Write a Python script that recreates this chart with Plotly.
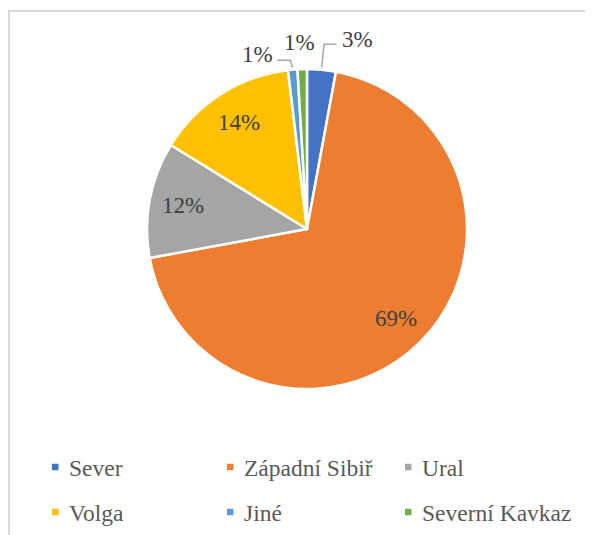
import math
import plotly.graph_objects as go

labels = ["Sever", "Západní Sibiř", "Ural", "Volga", "Jiné", "Severní Kavkaz"]
values = [2.9, 69.2, 11.7, 14.3, 0.95, 0.95]
colors = ["#4472C4", "#ED7D31", "#A5A5A5", "#FFC000", "#5B9BD5", "#70AD47"]

# page offset (body margin) and figure size
OFF = 8
FW, FH = 593 - OFF, 535 - OFF
CX, CY, R = 307, 229, 160          # pie centre / radius in page pixels
FONT = "Liberation Serif, Times New Roman, serif"

def px(x):
    return (x - OFF) / FW

def py(y):
    return 1 - (y - OFF) / FH

total = sum(values)
pct = [f"{round(100 * v / total)}%" for v in values]

fig = go.Figure(go.Pie(
    labels=labels, values=values, sort=False, direction="clockwise", rotation=0,
    marker=dict(colors=colors, line=dict(color="white", width=2.5)),
    textinfo="none", showlegend=False,
    domain=dict(x=[px(CX - R), px(CX + R)], y=[py(CY + R), py(CY - R)]),
    hoverinfo="label+percent",
))

annotations = []
shapes = [dict(type="rect", xref="paper", yref="paper",
               x0=px(9), x1=1.05, y0=-0.05, y1=py(11),
               line=dict(color="#D9D9D9", width=2))]

# label placement for small (outside) slices: offset of label centre and leader path
outside = {
    "Sever": ((36, -30), [(0, -2), (2.5, -25.5), (15, -25.5)]),
    "Jiné": ((-35, -15), [(0, -2), (-2.5, -9.5), (-15.5, -9.5)]),
    "Severní Kavkaz": ((-2.7, -27), None),
}

cum = 0.0
for lab, v, t in zip(labels, values, pct):
    mid = 2 * math.pi * (cum + v / 2) / total
    cum += v
    sx, sy = math.sin(mid), -math.cos(mid)
    if lab in outside:
        (ox, oy), path = outside[lab]
        ex, ey = CX + R * sx, CY + R * sy
        annotations.append(dict(x=px(ex + ox), y=py(ey + oy), xref="paper", yref="paper",
                                text=t, showarrow=False, xanchor="center", yanchor="middle",
                                font=dict(family=FONT, size=23, color="#404040")))
        if path:
            d = "M " + " L ".join(f"{px(ex + a):.5f},{py(ey + b):.5f}" for a, b in path)
            shapes.append(dict(type="path", xref="paper", yref="paper", path=d,
                               line=dict(color="#A6A6A6", width=1.5)))
    else:
        f = 0.79
        annotations.append(dict(x=px(CX + f * R * sx), y=py(CY + f * R * sy),
                                xref="paper", yref="paper", text=t, showarrow=False,
                                xanchor="center", yanchor="middle",
                                font=dict(family=FONT, size=23, color="#404040")))

# legend (3 columns x 2 rows)
col_marker = [52, 227, 405]
col_text = [67, 242, 420]
row_y = [467, 512]
MS = 6.5
for i, (lab, c) in enumerate(zip(labels, colors)):
    r_, c_ = divmod(i, 3)
    yc = row_y[r_]
    shapes.append(dict(type="rect", xref="paper", yref="paper",
                       x0=px(col_marker[c_]), x1=px(col_marker[c_] + MS),
                       y0=py(yc + MS / 2), y1=py(yc - MS / 2),
                       fillcolor=c, line=dict(width=0)))
    annotations.append(dict(x=px(col_text[c_]), y=py(yc + 1), xref="paper", yref="paper",
                            text=lab, showarrow=False, xanchor="left", yanchor="middle",
                            font=dict(family=FONT, size=23.5, color="#595959")))

fig.update_layout(
    width=FW, height=FH,
    margin=dict(l=0, r=0, t=0, b=0, autoexpand=False),
    paper_bgcolor="white",
    font=dict(family=FONT, color="#595959"),
    showlegend=False,
    shapes=shapes,
    annotations=annotations,
)

fig.write_html("out.html")
